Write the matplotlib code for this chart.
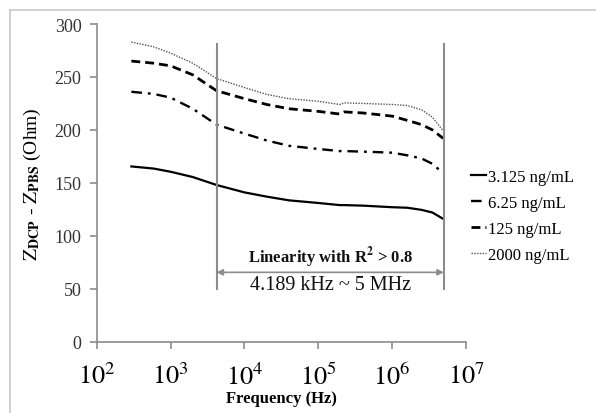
import math
import matplotlib
matplotlib.use("Agg")
import matplotlib.pyplot as plt
from matplotlib.lines import Line2D

plt.rcParams['font.family'] = ['Liberation Serif', 'DejaVu Serif']
plt.rcParams['mathtext.fontset'] = 'stix'

freq_hz = [295, 590, 1000, 2000, 4189, 1e4, 2e4, 4e4, 1e5, 1.95e5, 2.24e5,
           4e5, 1e6, 1.6e6, 2.5e6, 3.5e6, 4.9e6]
z_3125 = [165.5, 163.5, 160.5, 155.5, 148, 141, 137, 133.5, 131, 129, 129,
          128.5, 127, 126.5, 124.5, 122, 116]
z_625 = [236, 234, 230.5, 220, 205, 196.5, 190, 185, 182, 180, 180,
         179.5, 178.5, 176, 173, 168, 159]
z_125 = [265, 263, 260.5, 252, 237, 229.5, 224, 220, 217.5, 215, 217,
         216, 213, 209, 205, 200, 192]
z_2000 = [283, 278.5, 272.5, 263, 248.5, 240, 233.5, 229.5, 227, 224, 225.5,
          225, 224, 223, 219, 212, 199]
labels = ['3.125 ng/mL', '6.25 ng/mL', '125 ng/mL', '2000 ng/mL']
range_lo, range_hi = 4189, 5e6
xticks = [1e2, 1e3, 1e4, 1e5, 1e6, 1e7]
yticks = [0, 50, 100, 150, 200, 250, 300]

fig = plt.figure(figsize=(5.96, 4.14), dpi=100)
ax = fig.add_axes([0.1622, 0.1722, 0.782 - 0.1622, 0.9396 - 0.1722])

# outer chart frame (left and top edges visible)
fig.add_artist(Line2D([10/596, 10/596], [0, 1 - 11/414], transform=fig.transFigure,
                      color='#c8c8c8', lw=1.2))
fig.add_artist(Line2D([10/596, 1], [1 - 11/414, 1 - 11/414], transform=fig.transFigure,
                      color='#c8c8c8', lw=1.2))

ax.plot(freq_hz, z_3125, color='black', lw=1.6, label=labels[0])
ax.plot(freq_hz, z_625, color='black', lw=1.7, dashes=(4.5, 2.5, 1.2, 2.5), label=labels[1])
ax.plot(freq_hz, z_125, color='black', lw=2.0, dashes=(3.2, 1.8), label=labels[2])
ax.plot(freq_hz, z_2000, color='#555555', lw=1.0, dashes=(1, 1), label=labels[3])

ax.set_xscale('log')
ax.set_xlim(1e2, 1e7)
ax.set_ylim(0, 300)
ax.set_xticks(xticks)
ax.set_xticklabels([r'$\mathrm{10^{%d}}$' % int(round(math.log10(t))) for t in xticks],
                   fontsize=19)
ax.xaxis.set_minor_locator(matplotlib.ticker.NullLocator())
ax.set_yticks(yticks)
ax.set_yticklabels([str(t) for t in yticks], fontsize=13, color='#333333')
for s in ['top', 'right']:
    ax.spines[s].set_visible(False)
for s in ['left', 'bottom']:
    ax.spines[s].set_color('#8c8c8c')
    ax.spines[s].set_linewidth(1.2)
ax.tick_params(axis='both', direction='out', length=5, color='#8c8c8c', width=1.2)
ax.tick_params(axis='x', pad=10)
ax.tick_params(axis='y', pad=6)

ax.set_xlabel('Frequency (Hz)', fontsize=12, fontweight='bold', labelpad=1)
ax.set_ylabel(r'$\mathrm{Z}_{\mathbf{DCP}}$ - $\mathrm{Z}_{\mathbf{PBS}}$ (Ohm)', fontsize=14,
              labelpad=8)

# linearity range markers
ax.plot([range_lo, range_lo], [50, 281], color='#8c8c8c', lw=1.5)
ax.plot([range_hi, range_hi], [50, 281], color='#8c8c8c', lw=1.5)
ax.annotate('', xy=(range_lo, 65.5), xytext=(range_hi, 65.5),
            arrowprops=dict(arrowstyle='<|-|>', color='#8c8c8c', lw=1.2,
                            mutation_scale=9, shrinkA=0, shrinkB=0))
mid = (range_lo * range_hi) ** 0.5
ax.text(mid, 69, r'Linearity with R$^{\mathbf{2}}$ > 0.8', fontsize=12, fontweight='bold',
        ha='center', va='bottom', color='#111111')
ax.text(mid, 63, '4.189 kHz ~ 5 MHz', fontsize=14.5, ha='center', va='top', color='#111111')

leg = ax.legend(loc='upper left', bbox_to_anchor=(0.995, 0.565), frameon=False,
                fontsize=12, handlelength=0.9, handletextpad=0.15, labelspacing=0.6,
                borderaxespad=0)

fig.savefig('out.png', dpi=100)
